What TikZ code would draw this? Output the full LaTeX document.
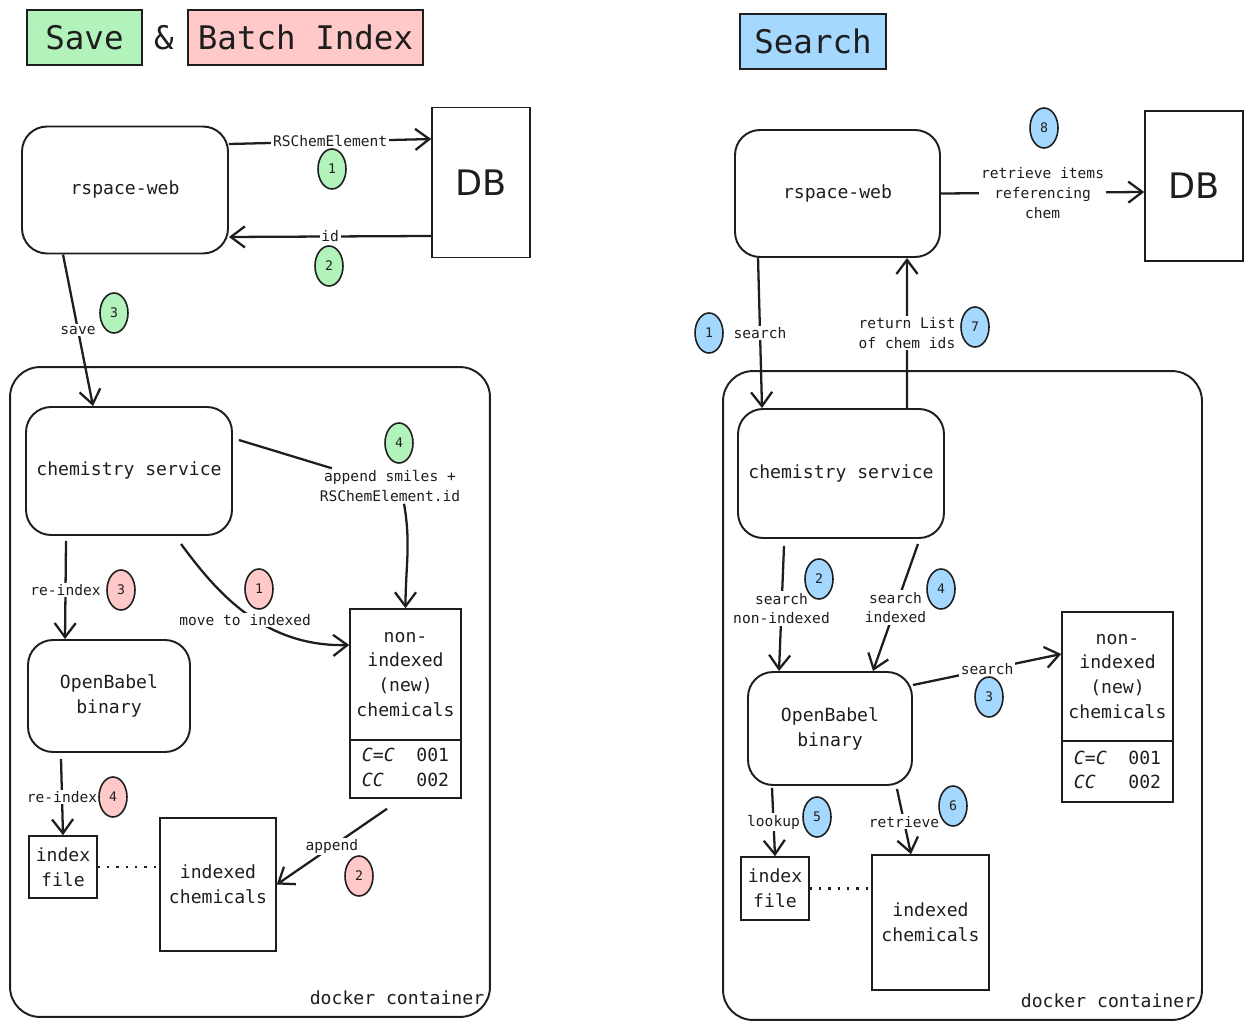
\documentclass[tikz,border=0pt]{standalone}
\usepackage{fontspec}
\setmainfont{DejaVu Sans}
\setmonofont{DejaVu Sans Mono}
\usepackage{xcolor}
\usetikzlibrary{arrows.meta,shapes.geometric}

\definecolor{ink}{HTML}{1E1E1E}
\definecolor{savegreen}{HTML}{B2F2BB}
\definecolor{batchpink}{HTML}{FFC9C9}
\definecolor{searchblue}{HTML}{A5D8FF}

\newcommand{\chemboxfont}{\ttfamily\fontsize{10.3}{14.2}\selectfont}
\newcommand{\chemlblfont}{\ttfamily\fontsize{8.3}{11.3}\selectfont}
\newcommand{\chembadgefont}{\ttfamily\fontsize{7.5}{9}\selectfont}
\newcommand{\chemtitlefont}{\ttfamily\fontsize{18.5}{22}\selectfont}

\tikzset{
  rbox/.style={draw=ink, line width=1.1pt, rounded corners=0.5cm, text=ink, align=center, font=\chemboxfont},
  sbox/.style={draw=ink, line width=0.9pt, inner sep=2pt, text=ink, align=center, font=\chemboxfont},
  dbbox/.style={draw=ink, line width=0.9pt, minimum width=1.96cm, minimum height=3cm, text=ink, font=\fontsize{20}{24}\selectfont},
  titlebox/.style={draw=ink, line width=0.9pt, minimum height=1.1cm, text=ink, font=\chemtitlefont},
  badge/.style={ellipse, draw=ink, line width=0.9pt, minimum width=0.56cm, minimum height=0.8cm, inner sep=0pt, text=ink, font=\chembadgefont},
  lbl/.style={fill=white, inner sep=1pt, text=ink, align=center, font=\chemlblfont},
  wire/.style={draw=ink, line width=1.3pt},
  arr/.style={wire, -{Straight Barb[length=8pt,width=12pt]}},
  dots/.style={draw=ink, line width=1.3pt, dash pattern=on 1.3pt off 4pt}
}

\begin{document}
\begin{tikzpicture}[x=0.02cm, y=-0.02cm]
        \useasboundingbox (0,0) rectangle (1253,1030);
        % titles
        \node[titlebox, fill=savegreen, minimum width=2.3cm] (tSave) at (84.5,37.5) {Save};
        \node[text=ink, font=\chemtitlefont] (tAnd) at (164,38) {\&};
        \node[titlebox, fill=batchpink, minimum width=4.7cm] (tBatch) at (305.5,37.5) {Batch Index};
        \node[titlebox, fill=searchblue, minimum width=2.92cm] (tSearch) at (813,41.5) {Search};

        % left: save & batch index
        \node[rbox, draw, rounded corners=0.6cm, minimum width=9.6cm, minimum height=13cm] (dkL) at (250,692) {};
        \node[text=ink, font=\chemboxfont] (dkLlbl) at (397,998) {docker container};
        \node[rbox, minimum width=4.12cm, minimum height=2.54cm] (rwL) at (125,190) {rspace-web};
        \node[dbbox] (dbL) at (481,182.5) {DB};
        \node[rbox, minimum width=4.12cm, minimum height=2.56cm] (csL) at (129,471) {chemistry service};
        \node[rbox, minimum width=3.24cm, minimum height=2.24cm] (obL) at (109,696) {OpenBabel\\ binary};
        \node[sbox, minimum width=2.22cm, minimum height=2.62cm] (niL) at (405.5,674.5) {non-\\indexed\\(new)\\chemicals};
        \node[sbox, minimum width=2.22cm, minimum height=1.16cm] (ntL) at (405.5,769)
             {\begin{tabular}{@{}l@{\hspace{1.2em}}l@{}}\textit{C=C} & 001\\ \textit{CC} & 002\end{tabular}};
        \node[sbox, minimum width=1.36cm, minimum height=1.24cm] (ifL) at (63,867) {index\\file};
        \node[sbox, minimum width=2.32cm, minimum height=2.66cm] (icL) at (218,884.5) {indexed\\chemicals};
        \node[lbl] (apL) at (390,486) {append smiles +\\RSChemElement.id};

        \draw[arr] ([yshift=0.92cm]rwL.east) -- node[lbl] {RSChemElement} ([yshift=0.87cm]dbL.west);
        \draw[arr] ([yshift=-1.07cm]dbL.west) -- node[lbl] {id} ([yshift=-0.94cm]rwL.east);
        \draw[arr] ([xshift=-1.24cm]rwL.south) -- node[lbl] {save} ([xshift=-0.72cm]csL.north);
        \draw[wire] ([xshift=0.12cm,yshift=0.62cm]csL.east) -- (apL);
        \draw[arr] ([xshift=0.28cm]apL.south) to[out=-80,in=90] (niL.north);
        \draw[arr] ([xshift=1.04cm,yshift=-0.16cm]csL.south) .. controls (215,590) and (262,647) .. node[lbl, pos=0.5, yshift=-0.15cm] {move to indexed} ([yshift=0.59cm]niL.west);
        \draw[arr] ([xshift=-1.26cm,yshift=-0.1cm]csL.south) -- node[lbl] {re-index} ([xshift=-0.88cm]obL.north);
        \draw[arr] ([xshift=-0.96cm,yshift=-0.12cm]obL.south) -- node[lbl] {re-index} (ifL.north);
        \draw[arr] ([xshift=-0.37cm,yshift=-0.2cm]ntL.south) -- node[lbl] {append} (icL.east);
        \draw[dots] (ifL.east) -- (ifL.east -| icL.west);

        % right: search
        \node[rbox, draw, rounded corners=0.6cm, minimum width=9.58cm, minimum height=12.98cm] (dkR) at (962.5,695.5) {};
        \node[text=ink, font=\chemboxfont] (dkRlbl) at (1108,1001) {docker container};
        \node[rbox, minimum width=4.1cm, minimum height=2.54cm] (rwR) at (837.5,193.5) {rspace-web};
        \node[dbbox] (dbR) at (1194,186) {DB};
        \node[rbox, minimum width=4.12cm, minimum height=2.58cm] (csR) at (841,473.5) {chemistry service};
        \node[rbox, minimum width=3.28cm, minimum height=2.26cm] (obR) at (830,728.5) {OpenBabel\\ binary};
        \node[sbox, minimum width=2.22cm, minimum height=2.58cm] (niR) at (1117.5,676.5) {non-\\indexed\\(new)\\chemicals};
        \node[sbox, minimum width=2.22cm, minimum height=1.22cm] (ntR) at (1117.5,771.5)
             {\begin{tabular}{@{}l@{\hspace{1.2em}}l@{}}\textit{C=C} & 001\\ \textit{CC} & 002\end{tabular}};
        \node[sbox, minimum width=1.36cm, minimum height=1.26cm] (ifR) at (775,888.5) {index\\file};
        \node[sbox, minimum width=2.34cm, minimum height=2.7cm] (icR) at (930.5,922.5) {indexed\\chemicals};

        \draw[arr] (rwR.east) -- node[lbl] {retrieve items\\referencing\\chem} ([yshift=-0.12cm]dbR.west);
        \draw[arr] ([xshift=-1.59cm]rwR.south) -- node[lbl] {search} ([xshift=-1.58cm]csR.north);
        \draw[arr] ([xshift=1.32cm]csR.north) -- node[lbl] {return List\\of chem ids} ([xshift=1.39cm]rwR.south);
        \draw[arr] ([xshift=-1.14cm,yshift=-0.14cm]csR.south) -- node[lbl] {search\\non-indexed} ([xshift=-1.02cm]obR.north);
        \draw[arr] ([xshift=1.54cm,yshift=-0.1cm]csR.south) -- node[lbl] {search\\indexed} ([xshift=0.86cm]obR.north);
        \draw[arr] ([yshift=0.87cm]obR.east) -- node[lbl] {search} ([yshift=0.45cm]niR.west);
        \draw[arr] ([xshift=-1.16cm,yshift=-0.04cm]obR.south) -- node[lbl] {lookup} (ifR.north);
        \draw[arr] ([xshift=1.34cm,yshift=-0.06cm]obR.south) -- node[lbl] {retrieve} ([xshift=-0.39cm]icR.north);
        \draw[dots] (ifR.east) -- (ifR.east -| icR.west);

        % step badges
        \foreach \n/\x/\y in {1/332/169, 2/329/266, 3/114/313, 4/399/443}
            \node[badge, fill=savegreen] (gL\n) at (\x,\y) {\n};
        \foreach \n/\x/\y in {1/259/589, 2/359/876, 3/121/590, 4/113/797}
            \node[badge, fill=batchpink] (pL\n) at (\x,\y) {\n};
        \foreach \n/\x/\y in {1/709/333, 2/819/579, 3/989/697, 4/941/589, 5/817/817, 6/953/806, 7/975/327, 8/1044/128}
            \node[badge, fill=searchblue] (bR\n) at (\x,\y) {\n};
    \end{tikzpicture}
\end{document}
